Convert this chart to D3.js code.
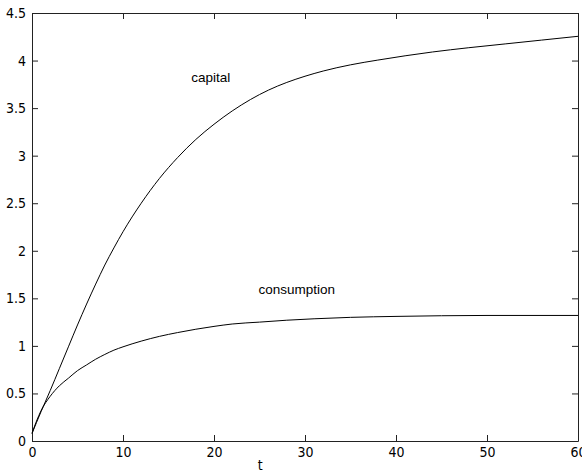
<!DOCTYPE html>
<html>
<head>
<meta charset="utf-8">
<script src="https://cdn.jsdelivr.net/npm/d3@7"></script>
<style>
  body { margin: 0; background: #fff; }
  .tick text, .axlbl { font-family: 'Liberation Sans Narrow', 'DejaVu Sans Condensed', 'Arial Narrow', sans-serif; font-size: 14px; fill: #000; }
  .lbl { font-family: 'Liberation Sans', Arial, sans-serif; font-size: 13.5px; fill: #000; }
</style>
</head>
<body>
<div class="chart"></div>
<script>
var W = 582;
var H = 476;
var margin = { top: 13, right: 4, bottom: 35, left: 32 };
var plotW = W - margin.left - margin.right;
var plotH = H - margin.top - margin.bottom;

// values
var capitalT = [0, 1, 2, 3, 4, 5, 6, 7, 8, 9, 10, 12, 14, 16, 18, 20, 22, 24, 26, 28, 30, 32, 35, 38, 41, 44, 48, 52, 56, 60];
var capitalV = [0.08, 0.31, 0.53, 0.76, 0.99, 1.22, 1.44, 1.65, 1.85, 2.03, 2.20, 2.50, 2.76, 2.98, 3.17, 3.33, 3.47, 3.59, 3.69, 3.77, 3.835, 3.89, 3.955, 4.005, 4.05, 4.09, 4.135, 4.175, 4.215, 4.255];

var consT = [0, 0.5, 1, 2, 3, 4, 5, 6, 7, 8, 9, 10, 12, 14, 16, 18, 20, 22, 25, 28, 31, 35, 40, 45, 50, 60];
var consV = [0.08, 0.21, 0.32, 0.47, 0.58, 0.66, 0.74, 0.80, 0.86, 0.91, 0.955, 0.99, 1.05, 1.10, 1.14, 1.175, 1.205, 1.23, 1.25, 1.27, 1.285, 1.30, 1.31, 1.317, 1.32, 1.32];

var xTicks = [0, 10, 20, 30, 40, 50, 60];
var yTicks = [0, 0.5, 1, 1.5, 2, 2.5, 3, 3.5, 4, 4.5];

var labelNames = ['capital', 'consumption'];
var labelT = [17.5, 24.9];
var labelV = [3.82, 1.59];

var svg = d3.select('.chart').append('svg').attr('width', W).attr('height', H);
var g = svg.append('g').attr('transform', 'translate(' + margin.left + ',' + margin.top + ')');

var xScale = d3.scaleLinear().domain([0, 60]).range([0, plotW]);
var yScale = d3.scaleLinear().domain([0, 4.5]).range([plotH, 0]);

/* ===== AXES (matlab style box, inward ticks) ===== */

var xAxis = d3.axisBottom(xScale).tickValues(xTicks).tickSizeInner(-6).tickSizeOuter(0).tickPadding(6).tickFormat(d3.format('d'));
var xTop = d3.axisTop(xScale).tickValues(xTicks).tickSizeInner(-6).tickSizeOuter(0).tickFormat('');
var yAxis = d3.axisLeft(yScale).tickValues(yTicks).tickSizeInner(-6).tickSizeOuter(0).tickPadding(6).tickFormat(function (d) { return d; });
var yRight = d3.axisRight(yScale).tickValues(yTicks).tickSizeInner(-6).tickSizeOuter(0).tickFormat('');

g.append('g').attr('transform', 'translate(0,' + plotH + ')').call(xAxis);
g.append('g').call(xTop);
g.append('g').call(yAxis);
g.append('g').attr('transform', 'translate(' + plotW + ',0)').call(yRight);

g.selectAll('.domain').attr('stroke', '#222');
g.selectAll('.tick line').attr('stroke', '#222');

/* ===== LINES ===== */

var line = d3.line()
  .x(function (d) { return xScale(d[0]); })
  .y(function (d) { return yScale(d[1]); })
  .curve(d3.curveMonotoneX);

var series = [d3.zip(capitalT, capitalV), d3.zip(consT, consV)];

g.selectAll('path.series')
  .data(series)
  .enter()
  .append('path')
  .attr('class', 'series')
  .attr('d', line)
  .attr('fill', 'none')
  .attr('stroke', '#000')
  .attr('stroke-width', 1);

/* ===== TEXT ===== */

g.selectAll('text.lbl')
  .data(labelNames)
  .enter()
  .append('text')
  .attr('class', 'lbl')
  .attr('x', function (d, i) { return xScale(labelT[i]); })
  .attr('y', function (d, i) { return yScale(labelV[i]); })
  .attr('dy', '0.35em')
  .text(function (d) { return d; });

g.append('text')
  .attr('class', 'axlbl')
  .attr('x', plotW * 0.418)
  .attr('y', plotH + 29)
  .attr('text-anchor', 'middle')
  .text('t');
</script>
</body>
</html>
